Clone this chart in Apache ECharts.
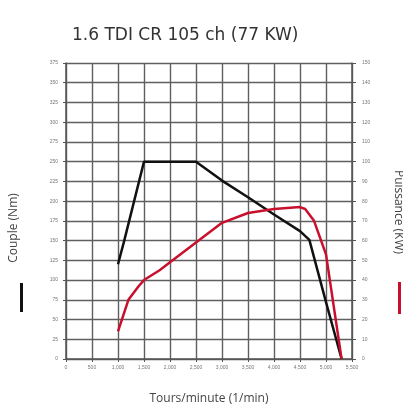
<!DOCTYPE html>
<html>
<head>
<meta charset="utf-8">
<script src="https://cdn.jsdelivr.net/npm/echarts@6/dist/echarts.min.js"></script>
<style>html,body{margin:0;padding:0;background:#fff;}#c{width:403px;height:410px;}</style>
</head>
<body>
<div id="c"></div>
<script>
var titleText = '1.6 TDI CR 105 ch (77 KW)';
var xName = 'Tours/minute (1/min)';
var leftName = 'Couple (Nm)';
var rightName = 'Puissance (KW)';
var torqueRpm = [1000, 1120, 1500, 2500, 3000, 3500, 4000, 4500, 4680, 5000, 5300];
var torqueNm  = [120, 150, 250, 250, 226, 205, 183, 162, 151, 72, 0];
var powerRpm = [1000, 1200, 1400, 1500, 1800, 2000, 2500, 3000, 3500, 4000, 4500, 4600, 4770, 5000, 5300];
var powerKw  = [14, 30, 37, 40, 45, 49, 59, 69, 74, 76, 77, 76, 70, 53, 0];

function pairs(xs, ys){ return xs.map(function(x,i){ return [x, ys[i]]; }); }

var chart = echarts.init(document.getElementById('c'));
var gridCol = '#5f5f5f';
chart.setOption({
  backgroundColor: '#fff',
  animation: false,
  title: {
    text: titleText, left: 67, top: 22,
    textStyle: { fontFamily: 'DejaVu Sans', fontSize: 17, fontWeight: 'normal', color: '#333' }
  },
  grid: { left: 66, right: 51, top: 63, bottom: 50, containLabel: false },
  xAxis: {
    type: 'value', min: 0, max: 5500, interval: 500,
    name: xName, nameLocation: 'middle', nameGap: 34,
    nameTextStyle: { fontFamily: 'Open Sans', fontSize: 12, color: '#444' },
    axisLine: { show: true, lineStyle: { color: '#555', width: 1.5 } },
    axisTick: { show: true, length: 3, lineStyle: { color: '#555' } },
    axisLabel: { fontSize: 5, color: '#777', margin: 6 },
    splitLine: { show: true, lineStyle: { color: gridCol, width: 1.4 } }
  },
  yAxis: [{
    type: 'value', min: 0, max: 375, interval: 25,
    axisLine: { show: true, lineStyle: { color: '#555', width: 1.5 } },
    axisTick: { show: true, length: 3, lineStyle: { color: '#555' } },
    axisLabel: { fontSize: 5, color: '#777', margin: 8 },
    splitLine: { show: true, lineStyle: { color: gridCol, width: 1.4 } }
  }, {
    type: 'value', min: 0, max: 150, interval: 10, position: 'right',
    axisLine: { show: true, lineStyle: { color: '#555', width: 1.5 } },
    axisTick: { show: true, length: 4, lineStyle: { color: '#555' } },
    axisLabel: { fontSize: 5, color: '#777', margin: 10 },
    splitLine: { show: false }
  }],
  series: [{
    type: 'line', name: leftName, yAxisIndex: 0, data: pairs(torqueRpm, torqueNm),
    showSymbol: false, lineStyle: { color: '#111', width: 2.5 }, z: 3
  }, {
    type: 'line', name: rightName, yAxisIndex: 1, data: pairs(powerRpm, powerKw),
    showSymbol: false, lineStyle: { color: '#c8102e', width: 2.5 }, z: 4
  }],
  graphic: [
    { type: 'text', x: 14, y: 228, rotation: Math.PI/2, style: { text: leftName, fontFamily: 'Open Sans', fontSize: 12, fill: '#444', align: 'center', verticalAlign: 'middle' } },
    { type: 'rect', shape: { x: 20, y: 283, width: 3, height: 29 }, style: { fill: '#111' } },
    { type: 'text', x: 398, y: 212, rotation: -Math.PI/2, style: { text: rightName, fontFamily: 'Open Sans', fontSize: 12, fill: '#444', align: 'center', verticalAlign: 'middle' } },
    { type: 'rect', shape: { x: 398, y: 282, width: 3, height: 32 }, style: { fill: '#c8102e' } }
  ]
});
</script>
</body>
</html>
